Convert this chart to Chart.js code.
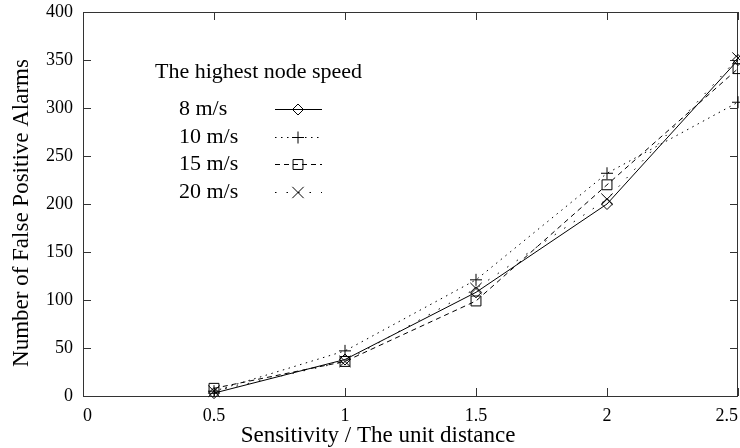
<!DOCTYPE html>
<html>
<head>
<meta charset="utf-8">
<script src="https://cdn.jsdelivr.net/npm/chart.js@4.4.1/dist/chart.umd.min.js"></script>
<style>
  html, body { margin: 0; padding: 0; background: #fff; }
  #wrap { width: 740px; height: 448px; }
</style>
</head>
<body>
<div id="wrap"><canvas id="alarmChart"></canvas></div>
<script>
// sensitivity (unit distance) vs. number of false positive alarms
const sensitivity = [0.5, 1, 1.5, 2, 2.5];
const alarms8 = [3, 38, 108, 200, 350];
const alarms10 = [5, 47, 121, 232, 306];
const alarms15 = [8, 36, 99, 220, 341];
const alarms20 = [5, 36, 112, 205, 352];

const speedLabels = ['8 m/s', '10 m/s', '15 m/s', '20 m/s'];
const legendTitle = 'The highest node speed';
const xTitle = 'Sensitivity / The unit distance';
const yTitle = 'Number of False Positive Alarms';
const xTicks = [0, 0.5, 1, 1.5, 2, 2.5];
const yTicks = [0, 50, 100, 150, 200, 250, 300, 350, 400];

const serif = 'Liberation Serif';
const ink = '#000';
const frameColor = '#333';

const toPoints = (vals) => vals.map((v, i) => ({ x: sensitivity[i], y: v }));

const series = [
  { data: alarms8,  dash: [],         style: 'rectRot',  r: 5.5 },
  { data: alarms10, dash: [1.5, 4.5], style: 'cross',    r: 6 },
  { data: alarms15, dash: [5, 4],     style: 'rect',     r: 7 },
  { data: alarms20, dash: [1.5, 10],  style: 'crossRot', r: 8 },
];

const datasets = series.map((s, i) => ({
  label: speedLabels[i],
  data: toPoints(s.data),
  borderColor: ink,
  borderWidth: 1,
  borderDash: s.dash,
  pointStyle: s.style,
  pointRadius: s.r,
  pointHoverRadius: s.r,
  pointBorderColor: ink,
  pointBorderWidth: 1,
  pointBackgroundColor: 'rgba(0,0,0,0)',
  tension: 0,
  fill: false,
  clip: false,
}));

// gnuplot-like frame with inward ticks on all four sides
const framePlugin = {
  id: 'frame',
  beforeDatasetsDraw(chart) {
    const { ctx, scales } = chart;
    const left = Math.round(scales.x.getPixelForValue(xTicks[0]));
    const right = Math.round(scales.x.getPixelForValue(xTicks[xTicks.length - 1]));
    const bottom = Math.round(scales.y.getPixelForValue(yTicks[0]));
    const top = Math.round(scales.y.getPixelForValue(yTicks[yTicks.length - 1]));
    const len = 8;
    ctx.save();
    ctx.strokeStyle = frameColor;
    ctx.lineWidth = 1;
    ctx.beginPath();
    yTicks.forEach((t) => {
      const y = Math.round(scales.y.getPixelForValue(t)) + 0.5;
      ctx.moveTo(left, y); ctx.lineTo(left + len, y);
      ctx.moveTo(right, y); ctx.lineTo(right - len, y);
    });
    xTicks.forEach((t) => {
      const x = Math.round(scales.x.getPixelForValue(t)) + 0.5;
      ctx.moveTo(x, bottom); ctx.lineTo(x, bottom - len);
      ctx.moveTo(x, top); ctx.lineTo(x, top + len);
    });
    ctx.stroke();
    ctx.strokeRect(left + 0.5, top + 0.5, right - left - 1, bottom - top);

    // axis titles
    ctx.fillStyle = ink;
    ctx.font = '23px "' + serif + '"';
    ctx.textAlign = 'center';
    ctx.textBaseline = 'middle';
    ctx.fillText(xTitle, 378, 436);
    ctx.translate(22, 213);
    ctx.rotate(-Math.PI / 2);
    ctx.fillText(yTitle, 0, 0);
    ctx.restore();
  },
};

// key box inside the plot
const keyPlugin = {
  id: 'key',
  afterDatasetsDraw(chart) {
    const ctx = chart.ctx;
    ctx.save();
    ctx.fillStyle = ink;
    ctx.font = '22px "' + serif + '"';
    ctx.textBaseline = 'middle';
    ctx.textAlign = 'left';
    ctx.fillText(legendTitle, 155, 72);
    const rows = [109, 137, 164, 192];
    chart.data.datasets.forEach((ds, i) => {
      const y = rows[i];
      ctx.fillStyle = ink;
      ctx.fillText(ds.label, 179, y);
      ctx.strokeStyle = ink;
      ctx.lineWidth = 1;
      ctx.setLineDash(ds.borderDash);
      ctx.beginPath();
      ctx.moveTo(275, y + 0.5);
      ctx.lineTo(322, y + 0.5);
      ctx.stroke();
      ctx.setLineDash([]);
      ctx.fillStyle = 'rgba(0,0,0,0)';
      Chart.helpers.drawPoint(ctx, {
        pointStyle: ds.pointStyle,
        radius: ds.pointRadius,
        rotation: 0,
        borderWidth: 1,
      }, 298, y + 0.5);
    });
    ctx.restore();
  },
};

new Chart(document.getElementById('alarmChart'), {
  type: 'line',
  data: { datasets },
  options: {
    responsive: true,
    maintainAspectRatio: false,
    animation: false,
    events: [],
    layout: { autoPadding: false, padding: { top: 12, right: 2, left: 0, bottom: 0 } },
    plugins: {
      legend: { display: false },
      tooltip: { enabled: false },
    },
    scales: {
      x: {
        type: 'linear',
        min: 0,
        max: 2.5,
        afterBuildTicks: (scale) => { scale.ticks = xTicks.map((v) => ({ value: v })); },
        afterFit: (scale) => {
          scale.height = 52;
          scale.paddingLeft = 0;
          scale.paddingRight = 0;
        },
        grid: { display: false, drawTicks: false },
        border: { display: false },
        ticks: {
          align: 'inner',
          padding: 9,
          color: ink,
          font: { family: serif, size: 18 },
          callback: (v) => String(v),
        },
      },
      y: {
        type: 'linear',
        min: 0,
        max: 400,
        afterBuildTicks: (scale) => { scale.ticks = yTicks.map((v) => ({ value: v })); },
        afterFit: (scale) => {
          scale.width = 83;
          scale.paddingTop = 0;
          scale.paddingBottom = 0;
        },
        grid: { display: false, drawTicks: false },
        border: { display: false },
        ticks: {
          padding: 10,
          color: ink,
          font: { family: serif, size: 18 },
          callback: (v) => String(v),
        },
      },
    },
  },
  plugins: [framePlugin, keyPlugin],
});
</script>
</body>
</html>
